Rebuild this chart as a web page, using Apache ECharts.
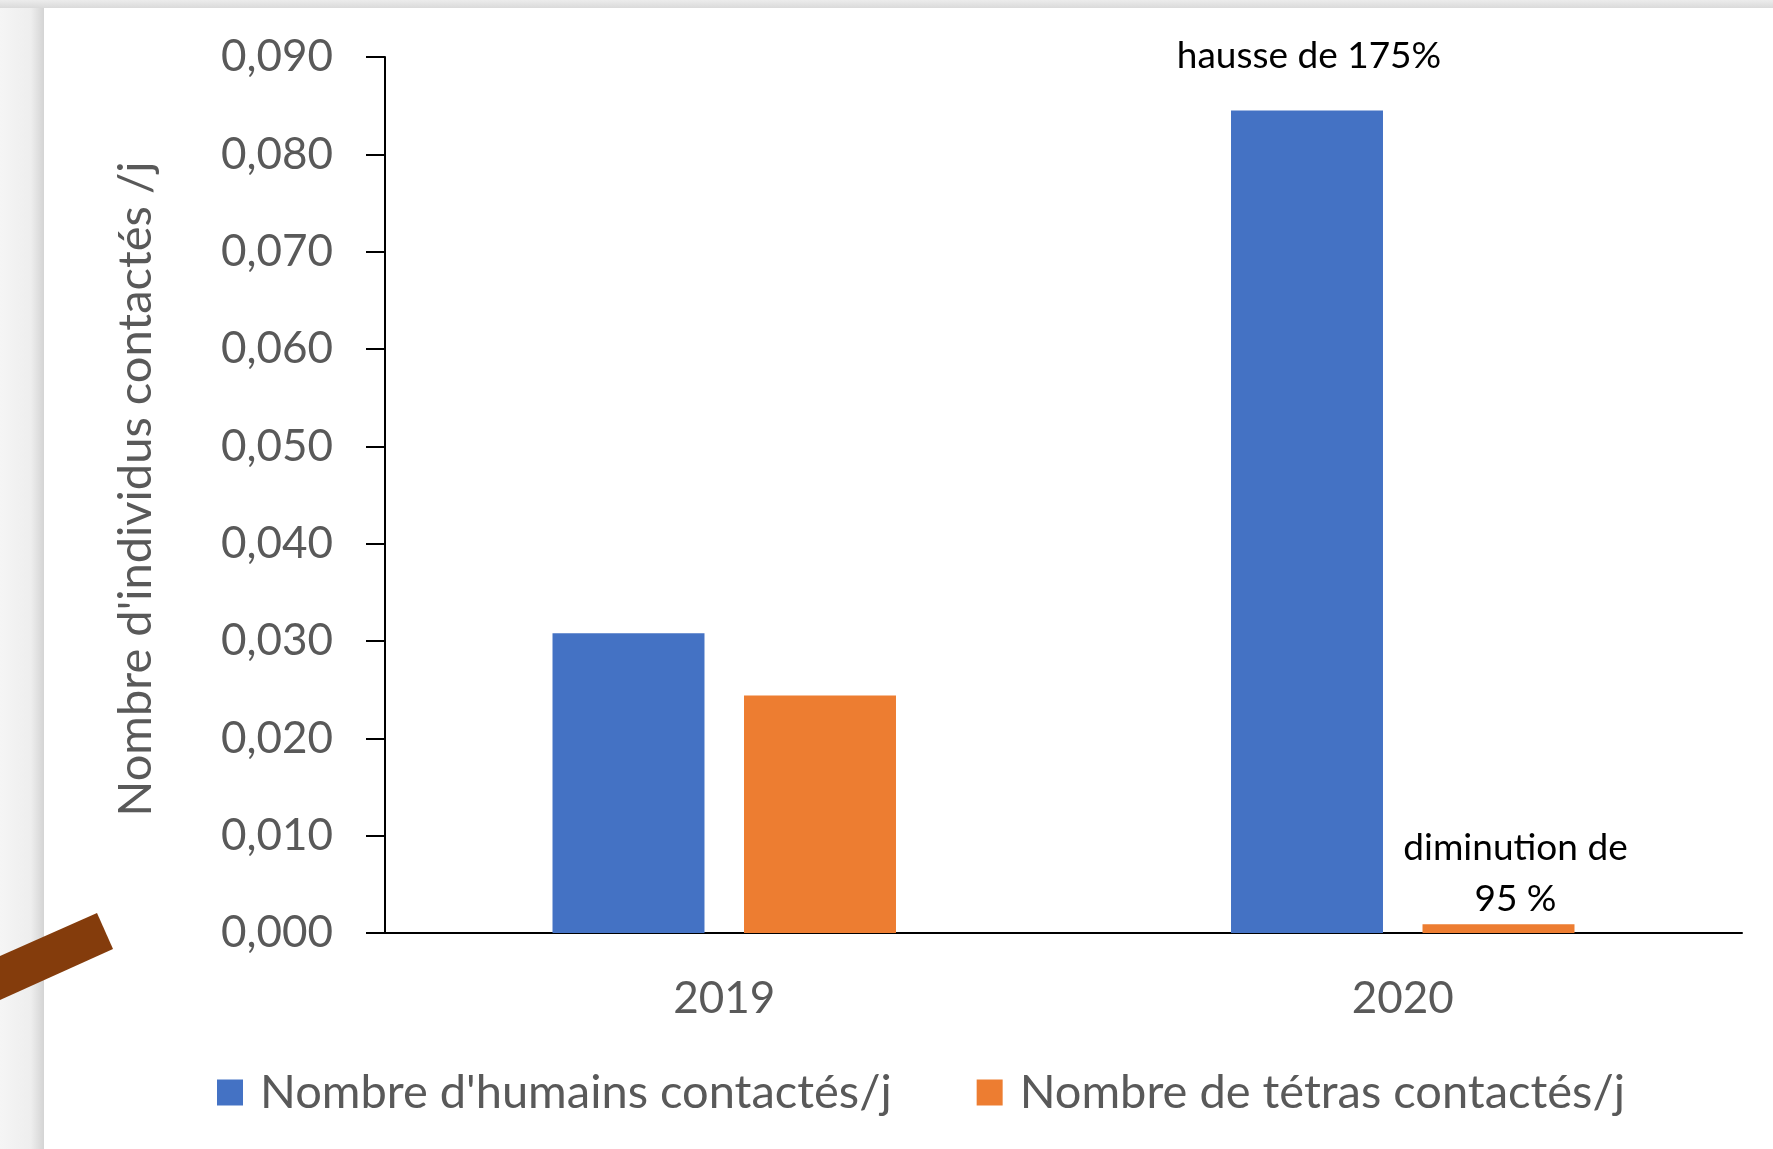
<!DOCTYPE html>
<html>
<head>
<meta charset="utf-8">
<script src="https://cdn.jsdelivr.net/npm/echarts@6/dist/echarts.min.js"></script>
<style>
  html, body { margin: 0; padding: 0; background: #ffffff; }
  #chart { width: 1773px; height: 1149px; }
</style>
</head>
<body>
<div id="chart"></div>
<script>
const categories = ['2019', '2020']
const seriesNames = ["Nombre d'humains contactés/j", 'Nombre de tétras contactés/j']
const humains = [0.0308, 0.0845]
const tetras = [0.0244, 0.0009]
const humainsNotes = ['', 'hausse de 175%']
const tetrasNotes = ['', 'diminution de\n95 %']

const BLUE = '#4472C4'
const ORANGE = '#ED7D31'
const FONT = 'Lato, "Open Sans", sans-serif'
const GREY_TEXT = '#595959'

const chart = echarts.init(document.getElementById('chart'), null, { renderer: 'canvas' })

function noteLabel(text, opts) {
  if (!text) return { show: false }
  return Object.assign({
    show: true,
    position: 'top',
    formatter: text,
    color: '#000000',
    fontFamily: FONT,
    fontSize: 37
  }, opts)
}

const option = {
  backgroundColor: '#ffffff',
  animation: false,
  textStyle: { fontFamily: FONT },
  graphic: [
    // page chrome around the pasted chart
    {
      type: 'rect', z: -10,
      shape: { x: 0, y: 0, width: 44, height: 1149 },
      style: {
        fill: new echarts.graphic.LinearGradient(0, 0, 1, 0, [
          { offset: 0, color: '#f5f5f5' },
          { offset: 0.7, color: '#eeeeee' },
          { offset: 1, color: '#d4d4d4' }
        ])
      }
    },
    {
      type: 'rect', z: -10,
      shape: { x: 0, y: 0, width: 1773, height: 8 },
      style: {
        fill: new echarts.graphic.LinearGradient(0, 0, 0, 1, [
          { offset: 0, color: '#ececec' },
          { offset: 1, color: '#dadada' }
        ])
      }
    },
    {
      type: 'polygon', z: 10,
      shape: { points: [[0, 956], [97, 913], [113, 949], [0, 1000]] },
      style: { fill: '#843C0C' }
    }
  ],
  grid: { left: 385, right: 31, top: 57, bottom: 216 },
  legend: {
    left: 212,
    top: 1064,
    itemWidth: 26,
    itemHeight: 26,
    itemGap: 85,
    icon: 'rect',
    textStyle: {
      color: GREY_TEXT, fontSize: 47, fontFamily: FONT,
      padding: [0, 0, 0, 12]
    },
    data: seriesNames
  },
  xAxis: {
    type: 'category',
    data: categories,
    axisLine: { lineStyle: { color: '#000000', width: 2 } },
    axisTick: { show: false },
    axisLabel: { color: GREY_TEXT, fontSize: 44, margin: 44 }
  },
  yAxis: {
    type: 'value',
    min: 0,
    max: 0.09,
    interval: 0.01,
    name: "Nombre d'individus contactés /j",
    nameLocation: 'middle',
    nameGap: 226,
    nameTextStyle: { color: GREY_TEXT, fontSize: 47, padding: [0, 0, 0, 12] },
    axisLine: { show: true, lineStyle: { color: '#000000', width: 2 } },
    axisTick: { show: true, length: 19, lineStyle: { color: '#000000', width: 2 } },
    splitLine: { show: false },
    axisLabel: {
      color: GREY_TEXT,
      fontSize: 44,
      margin: 52,
      formatter: v => v.toFixed(3).replace('.', ',')
    }
  },
  series: [
    {
      name: seriesNames[0],
      type: 'bar',
      barWidth: '22.4%',
      barGap: '26%',
      itemStyle: { color: BLUE },
      data: humains.map((v, i) => ({
        value: v,
        label: noteLabel(humainsNotes[i], { distance: 36, offset: [2, 0] })
      }))
    },
    {
      name: seriesNames[1],
      type: 'bar',
      barWidth: '22.4%',
      itemStyle: { color: ORANGE },
      data: tetras.map((v, i) => ({
        value: v,
        label: noteLabel(tetrasNotes[i], { distance: 0, offset: [17, 0], lineHeight: 51 })
      }))
    }
  ]
}

chart.setOption(option)
</script>
</body>
</html>
